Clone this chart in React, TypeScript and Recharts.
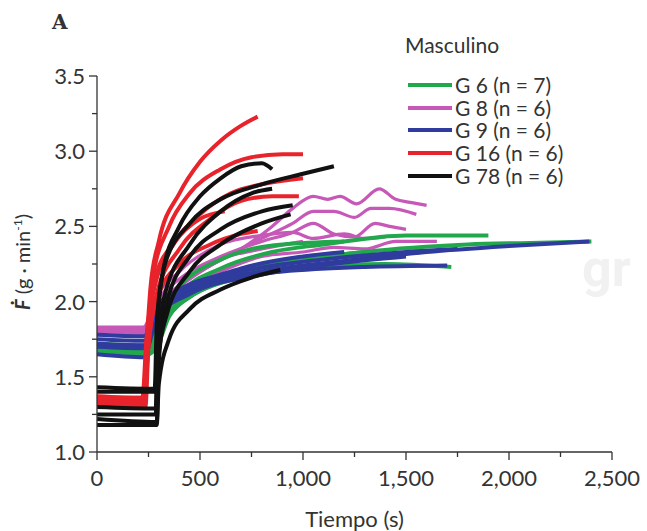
import React from "react";
import { LineChart, Line, XAxis, YAxis } from "recharts";

// each curve is a list of [time (s), F (g·min-1)]
const G6_CURVES: number[][][] = [
  [[0, 1.7], [240, 1.69], [280, 1.72], [320, 1.85], [400, 1.98], [500, 2.07], [700, 2.16], [1000, 2.22], [1400, 2.25], [1720, 2.23]],
  [[0, 1.66], [250, 1.65], [290, 1.7], [350, 1.9], [450, 2.03], [600, 2.13], [900, 2.25], [1300, 2.33], [1800, 2.38], [2100, 2.39], [2400, 2.4]],
  [[0, 1.72], [250, 1.71], [300, 1.85], [400, 2.05], [600, 2.22], [850, 2.33], [1100, 2.38], [1500, 2.44], [1900, 2.44]],
  [[0, 1.68], [260, 1.67], [300, 1.8], [380, 1.98], [500, 2.1], [700, 2.2], [1000, 2.28], [1300, 2.33]],
  [[0, 1.7], [250, 1.7], [300, 1.9], [400, 2.1], [600, 2.28], [900, 2.38], [1200, 2.4]],
];

const G8_CURVES: number[][][] = [
  [[0, 1.82], [220, 1.82], [260, 1.9], [350, 2.05], [500, 2.2], [700, 2.35], [850, 2.5], [950, 2.62], [1050, 2.7], [1120, 2.68], [1180, 2.7], [1260, 2.65], [1370, 2.75], [1450, 2.68], [1520, 2.66], [1600, 2.64]],
  [[0, 1.8], [230, 1.8], [280, 1.95], [400, 2.1], [600, 2.28], [800, 2.42], [950, 2.52], [1050, 2.6], [1150, 2.6], [1250, 2.56], [1330, 2.62], [1420, 2.62], [1550, 2.58]],
  [[0, 1.83], [230, 1.83], [280, 1.98], [400, 2.15], [600, 2.3], [800, 2.4], [950, 2.46], [1050, 2.52], [1150, 2.45], [1250, 2.43], [1350, 2.52], [1420, 2.5], [1500, 2.48]],
  [[0, 1.78], [240, 1.78], [290, 1.92], [400, 2.06], [600, 2.2], [800, 2.3], [1000, 2.33], [1150, 2.36], [1300, 2.35], [1450, 2.4], [1650, 2.4]],
  [[0, 1.81], [225, 1.81], [270, 1.98], [400, 2.2], [600, 2.38], [800, 2.44], [950, 2.46], [1050, 2.42], [1200, 2.45], [1300, 2.42], [1400, 2.43]],
  [[0, 1.79], [230, 1.79], [290, 1.96], [420, 2.12], [600, 2.28], [800, 2.35], [1000, 2.4]],
];

const G9_CURVES: number[][][] = [
  [[0, 1.65], [230, 1.63], [270, 1.8], [350, 1.98], [500, 2.1], [800, 2.2], [1200, 2.27], [1600, 2.33], [2000, 2.37], [2390, 2.4]],
  [[0, 1.75], [230, 1.74], [280, 1.92], [400, 2.05], [600, 2.15], [900, 2.2], [1300, 2.23], [1700, 2.24]],
  [[0, 1.78], [230, 1.77], [280, 1.95], [400, 2.08], [700, 2.2], [1100, 2.28], [1500, 2.33], [1750, 2.35]],
  [[0, 1.72], [240, 1.71], [290, 1.9], [450, 2.05], [800, 2.18], [1200, 2.26], [1500, 2.3]],
  [[0, 1.7], [235, 1.69], [280, 1.9], [400, 2.05], [700, 2.22], [1000, 2.3], [1200, 2.33]],
];

const G16_CURVES: number[][][] = [
  [[0, 1.35], [225, 1.34], [240, 1.7], [260, 2.1], [300, 2.4], [400, 2.72], [500, 2.93], [600, 3.07], [700, 3.17], [780, 3.23]],
  [[0, 1.32], [230, 1.31], [245, 1.65], [270, 2.15], [350, 2.5], [450, 2.72], [600, 2.88], [750, 2.96], [900, 2.98], [1000, 2.98]],
  [[0, 1.37], [220, 1.36], [240, 1.75], [280, 2.1], [380, 2.4], [500, 2.58], [650, 2.72], [800, 2.78], [1000, 2.82]],
  [[0, 1.3], [235, 1.3], [250, 1.7], [290, 2.05], [400, 2.35], [550, 2.55], [700, 2.67], [850, 2.7], [980, 2.7]],
  [[0, 1.34], [230, 1.33], [250, 1.72], [300, 2.05], [400, 2.25], [550, 2.38], [700, 2.45], [780, 2.47]],
  [[0, 1.36], [225, 1.36], [245, 1.8], [280, 2.15], [380, 2.4], [500, 2.55], [620, 2.6]],
];

const G78_CURVES: number[][][] = [
  [[0, 1.43], [280, 1.42], [290, 1.85], [320, 2.2], [400, 2.5], [500, 2.7], [600, 2.82], [700, 2.9], [800, 2.92], [850, 2.88]],
  [[0, 1.4], [285, 1.4], [295, 1.9], [330, 2.25], [450, 2.52], [600, 2.68], [800, 2.78], [1000, 2.85], [1150, 2.9]],
  [[0, 1.22], [290, 1.2], [300, 1.6], [340, 2.0], [450, 2.3], [600, 2.48], [800, 2.6], [950, 2.64]],
  [[0, 1.25], [285, 1.25], [295, 1.6], [340, 1.92], [450, 2.2], [600, 2.38], [800, 2.52], [940, 2.58]],
  [[0, 1.18], [290, 1.18], [300, 1.45], [350, 1.75], [450, 1.95], [600, 2.08], [750, 2.16], [890, 2.21]],
  [[0, 1.3], [285, 1.29], [295, 1.7], [330, 2.05], [450, 2.38], [600, 2.6], [750, 2.72], [850, 2.75]],
];

const GROUP_LABELS = ["G 6 (n = 7)", "G 8 (n = 6)", "G 9 (n = 6)", "G 16 (n = 6)", "G 78 (n = 6)"];
const GROUP_COLORS = ["#22a84c", "#c658b8", "#2f3c9e", "#e8232b", "#111111"];
// drawing order: back to front
const DRAW_ORDER = [1, 0, 2, 3, 4];
const GROUPS = [G6_CURVES, G8_CURVES, G9_CURVES, G16_CURVES, G78_CURVES];

const X_TICKS = [0, 250, 500, 750, 1000, 1250, 1500, 1750, 2000, 2250, 2500];
const Y_TICKS = [1, 1.25, 1.5, 1.75, 2, 2.25, 2.5, 2.75, 3, 3.25, 3.5];

const FONT = "Lato, 'Open Sans', sans-serif";
const INK = "#333";

function XTick(props: any) {
  const { x, y, payload } = props;
  const major = payload.value % 500 === 0;
  return (
    <g>
      <line x1={x} x2={x} y1={y} y2={y + (major ? 8 : 5)} stroke={INK} strokeWidth={1.3} />
      {major && (
        <text x={x} y={y + 34} textAnchor="middle" fontSize={22} fill={INK} fontFamily={FONT}>
          {payload.value.toLocaleString("en-US")}
        </text>
      )}
    </g>
  );
}

function YTick(props: any) {
  const { x, y, payload } = props;
  const major = Math.abs((payload.value * 2) % 1) < 1e-6;
  return (
    <g>
      <line x1={x - (major ? 8 : 5)} x2={x} y1={y} y2={y} stroke={INK} strokeWidth={1.3} />
      {major && (
        <text x={x - 12} y={y + 8} textAnchor="end" fontSize={22} fill={INK} fontFamily={FONT}>
          {payload.value.toFixed(1)}
        </text>
      )}
    </g>
  );
}

export default function App() {
  return (
    <div style={{ position: "absolute", left: 0, top: 0, width: 647, height: 531, background: "#fff", fontFamily: FONT, color: INK }}>
      <div style={{ position: "absolute", left: 582, top: 238, fontSize: 52, fontWeight: 700, color: "#f1f1f1", fontFamily: "Roboto, sans-serif" }}>gr</div>
      <div style={{ position: "absolute", left: 0, top: 0 }}>
        <LineChart width={647} height={531} margin={{ top: 76, right: 35, bottom: 49, left: 0 }}>
          <XAxis
            dataKey="t"
            type="number"
            domain={[0, 2500]}
            ticks={X_TICKS}
            tick={<XTick />}
            tickLine={false}
            tickSize={0}
            tickMargin={0}
            height={30}
            axisLine={{ stroke: INK, strokeWidth: 1.3 }}
            allowDuplicatedCategory={false}
          />
          <YAxis
            type="number"
            domain={[1, 3.5]}
            ticks={Y_TICKS}
            tick={<YTick />}
            tickLine={false}
            tickSize={0}
            tickMargin={0}
            width={97}
            axisLine={{ stroke: INK, strokeWidth: 1.3 }}
          />
          {DRAW_ORDER.flatMap((gi) =>
            GROUPS[gi].map((curve, ci) => (
              <Line
                key={`${gi}-${ci}`}
                data={curve.map(([t, v]) => ({ t, v }))}
                dataKey="v"
                type="monotone"
                stroke={GROUP_COLORS[gi]}
                strokeWidth={gi === 1 ? 3.2 : 4}
                strokeLinejoin="round"
                dot={false}
                activeDot={false}
                isAnimationActive={false}
              />
            ))
          )}
        </LineChart>
      </div>
      <div style={{ position: "absolute", left: 52, top: 10, fontSize: 20, fontWeight: 700, fontFamily: "'DejaVu Serif', serif" }}>A</div>
      <div style={{ position: "absolute", left: 405, top: 32, fontSize: 21 }}>Masculino</div>
      {GROUP_LABELS.map((label, i) => (
        <div key={label} style={{ position: "absolute", left: 408, top: 73 + i * 22.7, height: 24, display: "flex", alignItems: "center", fontSize: 21, lineHeight: "24px" }}>
          <span style={{ display: "inline-block", width: 44, height: 4, background: GROUP_COLORS[i], marginRight: 3 }} />
          <span>{label}</span>
        </div>
      ))}
      <div
        style={{
          position: "absolute",
          left: 22,
          top: 262,
          transform: "translate(-50%, -50%) rotate(-90deg)",
          whiteSpace: "nowrap",
          fontSize: 20,
        }}
      >
        <span style={{ fontWeight: 700, fontStyle: "italic" }}>Ḟ</span> (g · min<sup style={{ fontSize: 12 }}>-1</sup>)
      </div>
      <div style={{ position: "absolute", left: 0, width: 647, top: 505, paddingLeft: 97, boxSizing: "border-box" }}>
        <div style={{ width: 515, textAlign: "center", fontSize: 22 }}>Tiempo (s)</div>
      </div>
    </div>
  );
}
